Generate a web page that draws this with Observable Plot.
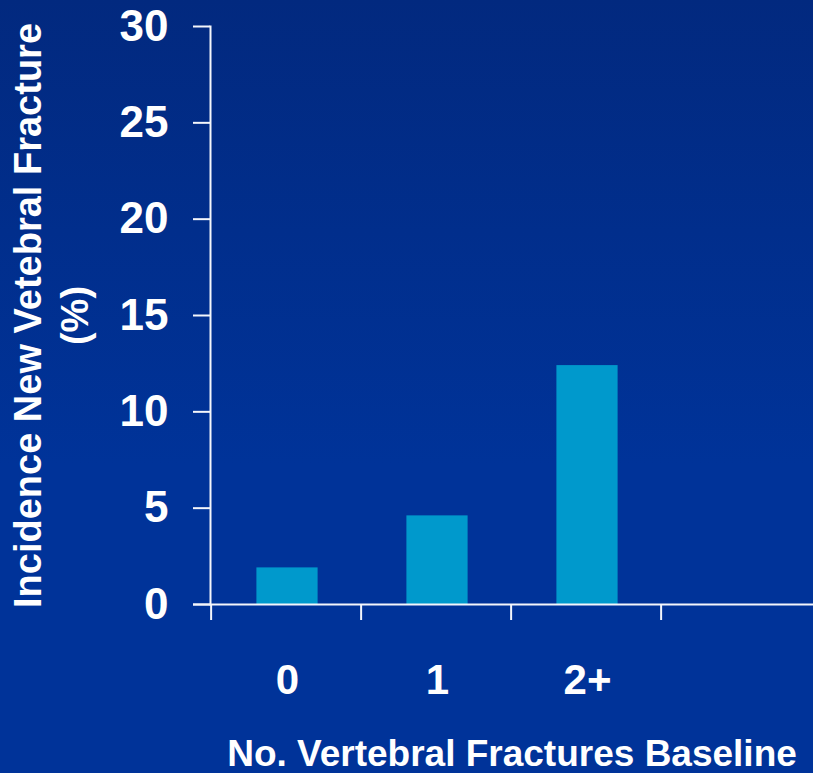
<!DOCTYPE html>
<html>
<head>
<meta charset="utf-8">
<script src="https://cdn.jsdelivr.net/npm/d3@7"></script>
<script src="https://cdn.jsdelivr.net/npm/@observablehq/plot@0.6"></script>
<style>
  html, body { margin: 0; padding: 0; }
  body { width: 813px; height: 773px; overflow: hidden;
         background: linear-gradient(to bottom, #02297f 0%, #003399 60%, #003399 100%); }
  svg { display: block; font-family: "Liberation Sans", Arial, sans-serif; }
</style>
</head>
<body>
<div id="chart"></div>
<script>
const categories = ["0", "1", "2+"];
const incidence = [1.9, 4.6, 12.4];
const emptySlot = [""];
const yTicks = [0, 5, 10, 15, 20, 25, 30];
const yTitle = "Incidence New Vetebral Fracture\n(%)";
const xTitle = "No. Vertebral Fractures Baseline";

const data = categories.map((c, i) => ({cat: c, value: incidence[i]}));
const xDomain = [...categories, ...emptySlot];

const W = 813, H = 773;
const mL = 210, mR = 0, mT = 26, mB = 169;
const band = (W - mL - mR) / xDomain.length;

const chart = Plot.plot({
  width: W,
  height: H,
  marginLeft: mL,
  marginRight: mR,
  marginTop: mT,
  marginBottom: mB,
  style: {background: "transparent", color: "white", fontFamily: "'Liberation Sans', Arial, sans-serif", overflow: "visible"},
  x: {type: "band", domain: xDomain, padding: 0},
  y: {domain: [0, 30]},
  marks: [
    Plot.barY(data, {x: "cat", y: "value", fill: "#0099cc", insetLeft: 44.4, insetRight: 44.4}),
    Plot.frame({anchor: "left", stroke: "#f4f6fb", strokeWidth: 2}),
    Plot.ruleY([0], {stroke: "#f4f6fb", strokeWidth: 2, insetLeft: -17}),
    Plot.axisY({ticks: yTicks, tickSize: 17, tickPadding: 25, strokeWidth: 2, stroke: "#f4f6fb",
      fontSize: 44, fontWeight: "bold", fill: "white", label: null}),
    Plot.axisX({tickSize: 16, text: null, dx: -band / 2 - 1, strokeWidth: 2, stroke: "#f4f6fb", label: null}),
    Plot.axisX({tickSize: 0, tickPadding: 60, fontSize: 42, fontWeight: "bold", fill: "white", label: null}),
    Plot.text([yTitle], {frameAnchor: "left", rotate: -90, dx: -161, fontSize: 38, fontWeight: "bold",
      fill: "white", textAnchor: "middle", lineAnchor: "middle", lineHeight: 1.25}),
    Plot.text([xTitle], {frameAnchor: "bottom", dy: 150, fontSize: 37, fontWeight: "bold",
      fill: "white", textAnchor: "middle", lineAnchor: "middle"})
  ]
});
document.getElementById("chart").appendChild(chart);
</script>
</body>
</html>
